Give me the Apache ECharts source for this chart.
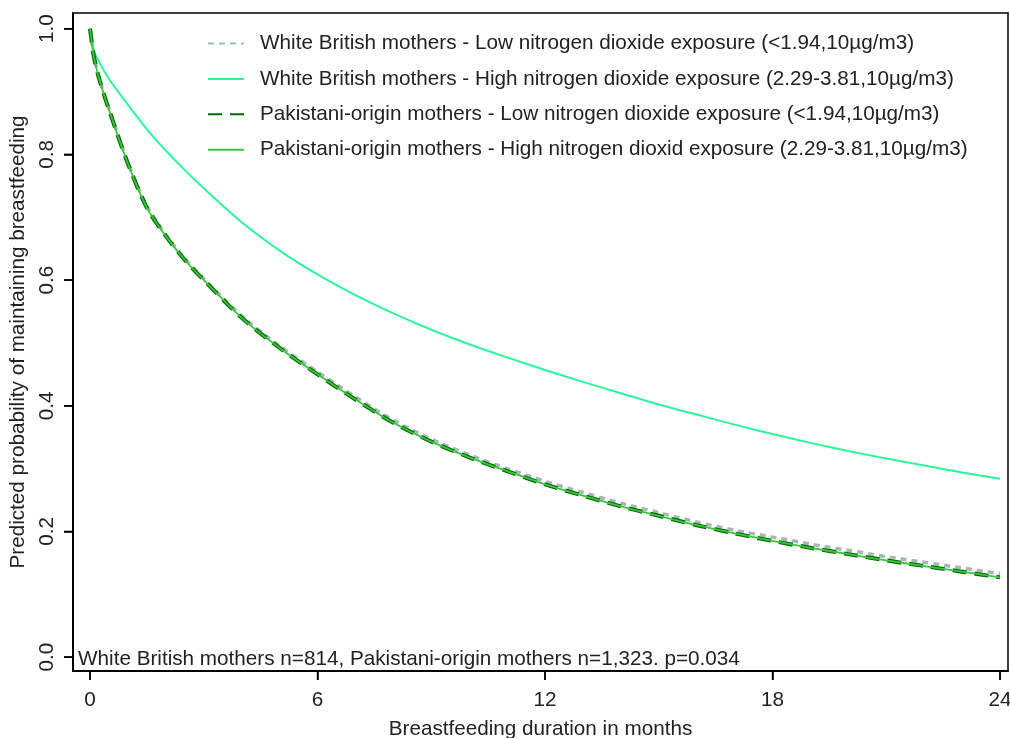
<!DOCTYPE html>
<html>
<head>
<meta charset="utf-8">
<script src="https://cdn.jsdelivr.net/npm/echarts@6/dist/echarts.min.js"></script>
<style>html,body{margin:0;padding:0;background:#fff;}#c{width:1010px;height:738px;background:#fff;}</style>
</head>
<body>
<div id="c"></div>
<script>
// Months (x) at which the curves were read
var months = [0, 0.1, 0.25, 0.5, 1, 1.5, 2, 2.5, 3, 4, 5, 6, 7, 8, 9, 10, 11, 12, 13, 14, 15, 16, 17, 18, 19, 20, 21, 22, 23, 24];
// Predicted probability of maintaining breastfeeding
var wbLow   = [1.0, 0.957, 0.92, 0.873, 0.787, 0.718, 0.672, 0.634, 0.602, 0.543, 0.495, 0.454, 0.414, 0.377, 0.347, 0.322, 0.300, 0.280, 0.262, 0.245, 0.230, 0.215, 0.202, 0.191, 0.180, 0.170, 0.160, 0.151, 0.142, 0.133];
var wbHigh  = [1.0, 0.965, 0.946, 0.920, 0.879, 0.840, 0.806, 0.775, 0.746, 0.692, 0.647, 0.609, 0.576, 0.547, 0.521, 0.498, 0.477, 0.457, 0.438, 0.420, 0.402, 0.386, 0.370, 0.355, 0.341, 0.328, 0.316, 0.305, 0.294, 0.284];
var pakLow  = [1.0, 0.956, 0.918, 0.871, 0.785, 0.715, 0.670, 0.632, 0.600, 0.540, 0.492, 0.450, 0.410, 0.373, 0.343, 0.318, 0.296, 0.275, 0.257, 0.240, 0.225, 0.210, 0.197, 0.185, 0.174, 0.164, 0.154, 0.145, 0.136, 0.127];
var pakHigh = [1.0, 0.956, 0.918, 0.871, 0.785, 0.715, 0.670, 0.632, 0.600, 0.540, 0.492, 0.450, 0.410, 0.373, 0.343, 0.318, 0.296, 0.275, 0.257, 0.240, 0.225, 0.210, 0.197, 0.185, 0.174, 0.164, 0.154, 0.145, 0.136, 0.127];
var xTicks = [0, 6, 12, 18, 24];
var yTicks = [0, 0.2, 0.4, 0.6, 0.8, 1.0];
var names = [
  'White British mothers - Low nitrogen dioxide exposure (<1.94,10µg/m3)',
  'White British mothers - High nitrogen dioxide exposure (2.29-3.81,10µg/m3)',
  'Pakistani-origin mothers - Low nitrogen dioxide exposure (<1.94,10µg/m3)',
  'Pakistani-origin mothers - High nitrogen dioxid exposure (2.29-3.81,10µg/m3)'
];
var note = 'White British mothers n=814, Pakistani-origin mothers n=1,323. p=0.034';

function pairs(v) { return months.map(function (m, i) { return [m, v[i]]; }); }

var FONT = 'Liberation Sans, Arial, sans-serif';
var FS = 20.7;
var X_MIN = -0.45, X_MAX = 24.21, Y_MIN = -0.022, Y_MAX = 1.025;
var TICK_LEN = 9;
var G = {left: 73, top: 13, right: 2, bottom: 67};
var frameAxis = {show: true, onZero: false, lineStyle: {color: '#000', width: 1.5}};
var chart = echarts.init(document.getElementById('c'), null, {renderer: 'canvas'});
chart.setOption({
  animation: false,
  textStyle: {fontFamily: FONT},
  title: {
    text: note, left: 73, top: 644,
    textStyle: {fontFamily: FONT, fontSize: FS, fontWeight: 'normal', color: '#222'}
  },
  legend: {
    orient: 'vertical', left: 202, top: 28,
    itemWidth: 36, itemHeight: 14, itemGap: 14.4,
    itemStyle: {opacity: 0},
    textStyle: {fontFamily: FONT, fontSize: FS, color: '#222', padding: [0, 0, 0, 11]},
    data: names
  },
  grid: {left: G.left, top: G.top, right: G.right, bottom: G.bottom, show: false, containLabel: false, outerBoundsMode: 'none'},
  xAxis: [{
    type: 'value', min: X_MIN, max: X_MAX, position: 'bottom',
    name: 'Breastfeeding duration in months', nameLocation: 'middle', nameGap: 48,
    nameTextStyle: {fontFamily: FONT, fontSize: FS, color: '#222'},
    axisLine: {show: true, onZero: false, lineStyle: {color: '#000', width: 2}},
    axisTick: {show: true, length: TICK_LEN, lineStyle: {color: '#000', width: 1.5}, customValues: xTicks},
    axisLabel: {fontFamily: FONT, fontSize: FS, color: '#222', margin: 19, customValues: xTicks},
    splitLine: {show: false}
  }, {
    type: 'value', min: X_MIN, max: X_MAX, position: 'top',
    axisLine: frameAxis, axisTick: {show: false}, axisLabel: {show: false}, splitLine: {show: false}
  }],
  yAxis: [{
    type: 'value', min: Y_MIN, max: Y_MAX, position: 'left',
    name: 'Predicted probability of maintaining breastfeeding', nameLocation: 'middle', nameGap: 41, nameRotate: 90,
    nameTextStyle: {fontFamily: FONT, fontSize: FS, color: '#222'},
    axisLine: {show: true, onZero: false, lineStyle: {color: '#000', width: 2}},
    axisTick: {show: true, length: TICK_LEN, lineStyle: {color: '#000', width: 1.5}, customValues: yTicks},
    axisLabel: {fontFamily: FONT, fontSize: FS, color: '#222', margin: 15, rotate: 90,
      formatter: function (v) { return v.toFixed(1); }, customValues: yTicks},
    splitLine: {show: false}
  }, {
    type: 'value', min: Y_MIN, max: Y_MAX, position: 'right',
    axisLine: frameAxis, axisTick: {show: false}, axisLabel: {show: false}, splitLine: {show: false}
  }],
  series: [
    {name: names[0], type: 'line', data: pairs(wbLow), symbol: 'none', smooth: 0.3, z: 2,
      lineStyle: {color: '#a3b9b5', width: 3.5, type: [6, 5]}, itemStyle: {color: '#a3b9b5'}},
    {name: names[1], type: 'line', data: pairs(wbHigh), symbol: 'none', smooth: 0.3, z: 3,
      lineStyle: {color: '#2df59a', width: 2}, itemStyle: {color: '#2df59a'}},
    {name: names[2], type: 'line', data: pairs(pakLow), symbol: 'none', smooth: 0.3, z: 4,
      lineStyle: {color: '#006a00', width: 4, type: [14, 8]}, itemStyle: {color: '#006a00'}},
    {name: names[3], type: 'line', data: pairs(pakHigh), symbol: 'none', smooth: 0.3, z: 5,
      lineStyle: {color: '#3cc43c', width: 1.8}, itemStyle: {color: '#3cc43c'}}
  ]
});

// Tick marks placed through the chart's own coordinate conversion
var W = chart.getWidth(), H = chart.getHeight();
function toPx(x, y) {
  var p = null;
  try { p = chart.convertToPixel({gridIndex: 0}, [x, y]); } catch (e) { p = null; }
  if (!p || !isFinite(p[0]) || !isFinite(p[1])) {
    p = [G.left + (x - X_MIN) / (X_MAX - X_MIN) * (W - G.left - G.right),
         G.top + (Y_MAX - y) / (Y_MAX - Y_MIN) * (H - G.top - G.bottom)];
  }
  return p;
}
var tickEls = [];
xTicks.forEach(function (v) {
  var p = toPx(v, Y_MIN);
  tickEls.push({type: 'line', silent: true, z: 100,
    shape: {x1: p[0], y1: p[1], x2: p[0], y2: p[1] + TICK_LEN},
    style: {stroke: '#000', lineWidth: 1.5}});
});
yTicks.forEach(function (v) {
  var p = toPx(X_MIN, v);
  tickEls.push({type: 'line', silent: true, z: 100,
    shape: {x1: p[0] - TICK_LEN, y1: p[1], x2: p[0], y2: p[1]},
    style: {stroke: '#000', lineWidth: 1.5}});
});
chart.setOption({graphic: {elements: tickEls}});
</script>
</body>
</html>
